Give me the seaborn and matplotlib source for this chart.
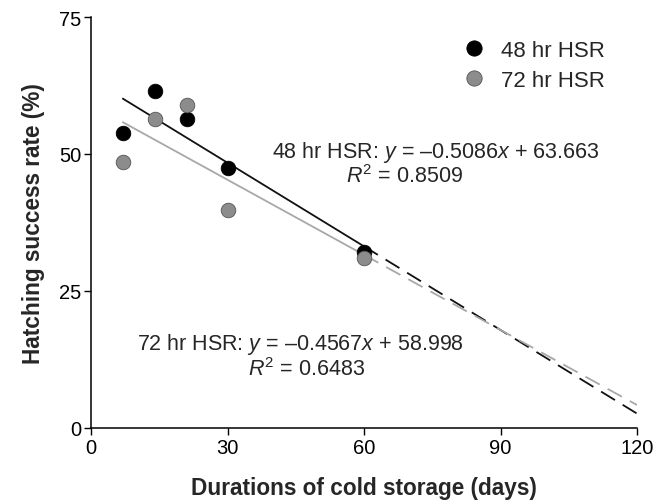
import numpy as np
import pandas as pd
import matplotlib
matplotlib.use("Agg")
import matplotlib.pyplot as plt
from matplotlib.lines import Line2D
import seaborn as sns

sns.set_style("ticks")
plt.rcParams['font.family'] = ['Liberation Sans', 'DejaVu Sans']
plt.rcParams['mathtext.fontset'] = 'custom'
plt.rcParams['mathtext.rm'] = 'Liberation Sans'
plt.rcParams['mathtext.it'] = 'Liberation Sans:italic'

days = [7, 14, 21, 30, 60]
hsr48 = [53.8, 61.5, 56.4, 47.5, 32.1]
hsr72 = [48.6, 56.4, 59.0, 39.7, 31.0]
series = ["48 hr HSR", "72 hr HSR"]
slopes = [-0.5086, -0.4567]
intercepts = [63.663, 58.998]
xticks = [0, 30, 60, 90, 120]
yticks = [0, 25, 50, 75]

pt_colors = {"48 hr HSR": "#000000", "72 hr HSR": "#8c8c8c"}
edge_colors = {"48 hr HSR": "#000000", "72 hr HSR": "#555555"}
line_colors = {"48 hr HSR": "#111111", "72 hr HSR": "#a8a8a8"}

df = pd.DataFrame({
    "days": days * 2,
    "hsr": hsr48 + hsr72,
    "series": [series[0]] * len(days) + [series[1]] * len(days),
})

fig = plt.figure(figsize=(6.65, 5.02), dpi=100)
ax = fig.add_axes([91 / 665, 1 - 429 / 502, 546 / 665, 411 / 502])

# regression lines (solid within data range, dashed extrapolation)
for s, m, b in zip(series, slopes, intercepts):
    xs = np.array([7, 60])
    sns.lineplot(x=xs, y=m * xs + b, ax=ax, color=line_colors[s], lw=1.3)
    xe = np.array([60, 120])
    sns.lineplot(x=xe, y=m * xe + b, ax=ax, color=line_colors[s], lw=1.3,
                 linestyle=(0, (9, 5)))

for z, s in enumerate(series):
    sns.scatterplot(data=df[df.series == s], x="days", y="hsr", color=pt_colors[s],
                    s=110, edgecolor=edge_colors[s], linewidth=0.6, ax=ax, zorder=3 + z,
                    legend=False)

ax.set_xlim(0, 120)
ax.set_ylim(0, 75)
ax.set_xticks(xticks)
ax.set_yticks(yticks)
ax.tick_params(labelsize=14.5, length=5, width=1, direction='out', color='black',
               labelcolor='black', pad=2)
for sp in ['top', 'right']:
    ax.spines[sp].set_visible(False)
for sp in ['left', 'bottom']:
    ax.spines[sp].set_linewidth(1.1)
    ax.spines[sp].set_color('black')

ax.set_xlabel("Durations of cold storage (days)", fontsize=16.3, fontweight='bold', labelpad=14)
ax.set_ylabel("Hatching success rate (%)", fontsize=16.3, fontweight='bold', labelpad=10)

handles = [Line2D([], [], marker='o', linestyle='none', markersize=11,
                  markerfacecolor=pt_colors[s], markeredgecolor=edge_colors[s],
                  markeredgewidth=0.6) for s in series]
ax.legend(handles, series, loc='upper left', bbox_to_anchor=(0.665, 0.965), frameon=False,
          fontsize=16, handletextpad=0.7, labelspacing=0.38, borderaxespad=0,
          handlelength=1.0)

def dx(px):
    return (px - 91) / 4.55

def dy(py):
    return (429 - py) / 5.48

fs = 15.5
ax.text(dx(272), dy(158), r"48 hr HSR: $\it{y}$ = –0.5086$\it{x}$ + 63.663",
        fontsize=fs, va='baseline', ha='left')
ax.text(dx(405), dy(183), r"$\it{R}^2$ = 0.8509", fontsize=fs, va='baseline', ha='center')
ax.text(dx(137), dy(350), r"72 hr HSR: $\it{y}$ = –0.4567$\it{x}$ + 58.998",
        fontsize=fs, va='baseline', ha='left')
ax.text(dx(248), dy(376), r"$\it{R}^2$ = 0.6483", fontsize=fs, va='baseline', ha='left')

fig.savefig("out.png", dpi=100)
